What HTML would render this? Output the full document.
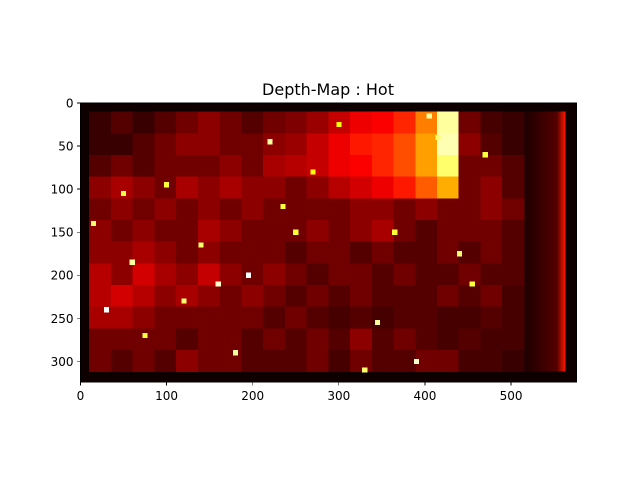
<!DOCTYPE html>
<html><head><meta charset="utf-8"><style>
html,body{margin:0;padding:0;background:#fff;}
svg{display:block;font-family:"DejaVu Sans","Liberation Sans",sans-serif;}
</style></head><body>
<svg id="chart" width="640" height="480" viewBox="0 0 640 480" shape-rendering="crispEdges">
<text x="328" y="95" text-anchor="middle" font-size="16" fill="#000">Depth-Map : Hot</text>
<g id="img"></g>
<g id="axes"></g>
</svg>
<script>
const imgW = 576, imgH = 324;
const xTicks = [0,100,200,300,400,500];
const yTicks = [0,50,100,150,200,250,300];
const gridX0 = 10, gridX1 = 515, gridY0 = 10, gridY1 = 312;
const gridValues = [
[.08,.12,.08,.12,.16,.2,.16,.12,.16,.18,.22,.28,.34,.36,.42,.55,.9,.16,.1,.08],
[.08,.08,.12,.16,.2,.2,.16,.16,.2,.22,.28,.34,.4,.42,.48,.6,.92,.2,.12,.08],
[.12,.16,.12,.16,.16,.16,.2,.16,.24,.26,.28,.34,.36,.42,.48,.6,.85,.16,.16,.12],
[.2,.24,.2,.16,.24,.2,.24,.2,.2,.16,.2,.26,.3,.34,.4,.5,.62,.16,.2,.12],
[.16,.2,.16,.2,.16,.2,.16,.2,.16,.16,.16,.16,.2,.2,.16,.2,.16,.16,.2,.16],
[.2,.16,.2,.16,.16,.24,.2,.16,.16,.16,.2,.16,.2,.24,.16,.12,.16,.16,.16,.12],
[.2,.2,.24,.2,.16,.2,.16,.16,.16,.12,.16,.16,.12,.16,.12,.12,.16,.12,.16,.12],
[.26,.2,.3,.24,.2,.28,.2,.16,.2,.16,.12,.16,.16,.12,.16,.12,.12,.16,.12,.12],
[.26,.3,.26,.2,.24,.2,.16,.2,.16,.12,.16,.12,.16,.12,.12,.12,.16,.12,.16,.1],
[.24,.24,.2,.16,.16,.16,.16,.16,.12,.16,.12,.1,.12,.1,.12,.12,.1,.1,.12,.1],
[.16,.16,.16,.16,.12,.16,.16,.12,.16,.12,.16,.12,.2,.12,.16,.12,.1,.12,.1,.1],
[.16,.12,.16,.12,.2,.16,.16,.12,.12,.12,.16,.1,.16,.12,.12,.16,.16,.1,.1,.08]
];
const spotX = [195,30,220,345,160,15,60,100,140,250,300,390,440,470,235,120,75,180,330,405,365,50,270,455,415];
const spotY = [200,240,45,255,210,140,185,95,165,150,25,300,175,60,120,230,270,290,310,15,150,105,80,210,40];
const spotV = [1,1,.9,.9,.95,.85,.9,.8,.85,.8,.75,.95,.85,.8,.8,.85,.8,.9,.85,.9,.8,.8,.75,.8,.85];

const X0 = 80.5, Y0 = 103, S = 279/324;
const xs = v => X0 + v*S, ys = v => Y0 + v*S;
function hot(v){
  const c = t => Math.round(255*Math.max(0,Math.min(1,t)));
  return `rgb(${c(v/0.365)},${c((v-0.365)/0.375)},${c((v-0.74)/0.26)})`;
}
const NS = "http://www.w3.org/2000/svg";
const img = document.getElementById('img');
const ax = document.getElementById('axes');
function mk(tag, attrs, parent){ const e = document.createElementNS(NS, tag); for (const k in attrs) e.setAttribute(k, attrs[k]); parent.appendChild(e); return e; }

const bg = mk('rect',{x:xs(0),y:ys(0),width:imgW*S,height:imgH*S,fill:hot(0.02)},img);


const defs = mk('defs',{},img);
const lg = mk('linearGradient',{id:'strip',x1:0,x2:1,y1:0,y2:0},defs);
mk('stop',{offset:'0',  'stop-color':hot(0.04)},lg);
mk('stop',{offset:'0.8','stop-color':hot(0.12)},lg);
mk('stop',{offset:'1',  'stop-color':hot(0.4)},lg);
const strip = mk('rect',{x:xs(515),y:ys(10),width:(563-515)*S,height:(312-10)*S,fill:'url(#strip)'},img);


const nr = gridValues.length, nc = gridValues[0].length;
const cw = (gridX1-gridX0)/nc, ch = (gridY1-gridY0)/nr;
gridValues.forEach((row,r)=>row.forEach((v,c)=>{
  const e = mk('rect',{x:xs(gridX0+c*cw),y:ys(gridY0+r*ch),width:cw*S+0.5,height:ch*S+0.5,fill:hot(v)},img);
  
  
}));
spotX.forEach((x,i)=>{
  const e = mk('rect',{x:xs(x-3),y:ys(spotY[i]-3),width:6*S,height:6*S,fill:hot(spotV[i])},img);
  
  
});
const fr = mk('rect',{x:xs(0),y:ys(0),width:imgW*S,height:imgH*S,fill:'none',stroke:'#000','stroke-width':0.8},ax);


xTicks.forEach(t=>{
  const x = xs(t), y = ys(imgH);
  const l = mk('line',{x1:x,x2:x,y1:y,y2:y+3.5,stroke:'#000','stroke-width':0.8},ax);
  
  
  const tx = mk('text',{x:x,y:y+18,'text-anchor':'middle','font-size':12,fill:'#000'},ax);
  tx.textContent = t;
  
  
});
yTicks.forEach(t=>{
  const y = ys(t), x = xs(0);
  const l = mk('line',{x1:x-3.5,x2:x,y1:y,y2:y,stroke:'#000','stroke-width':0.8},ax);
  
  
  const tx = mk('text',{x:x-7,y:y+4.5,'text-anchor':'end','font-size':12,fill:'#000'},ax);
  tx.textContent = t;
  
  
});
</script>
</body></html>
